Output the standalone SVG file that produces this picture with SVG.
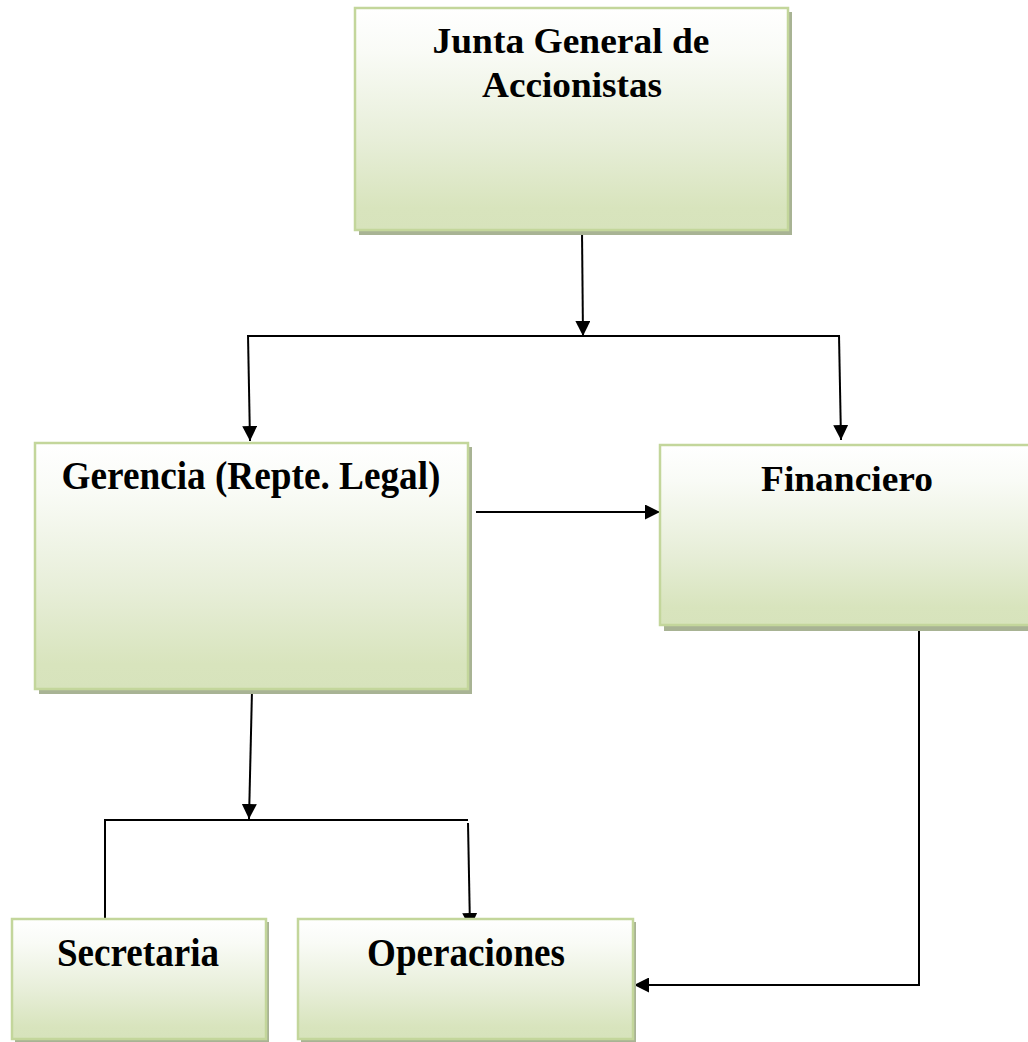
<svg xmlns="http://www.w3.org/2000/svg" width="1028" height="1042" viewBox="0 0 1028 1042">
<style>
.box{fill:url(#g);stroke:#c3d69b;stroke-width:2.5}
.sh{fill:#a8b394}
.t{font-family:"Liberation Serif","Times New Roman",serif;font-weight:bold;fill:#000;text-anchor:middle}
.c{stroke:#000;stroke-width:2;fill:none}
</style>
<defs>
<linearGradient id="g" x1="0" y1="0" x2="0" y2="1">
<stop offset="0" stop-color="#ffffff"/>
<stop offset="0.2" stop-color="#f9fbf6"/>
<stop offset="0.6" stop-color="#e7eed8"/>
<stop offset="0.9" stop-color="#d8e4bd"/>
<stop offset="1" stop-color="#d7e3bc"/>
</linearGradient>
<marker id="a" viewBox="0 0 10 10" refX="10" refY="5" markerWidth="7.5" markerHeight="7.5" markerUnits="strokeWidth" orient="auto">
<path d="M0,0 L10,5 L0,10 z" fill="#000"/>
</marker>
</defs>
<rect width="1028" height="1042" fill="#fff"/>
<g id="connectors">
<line class="c" x1="582" y1="231" x2="583" y2="336" marker-end="url(#a)"/>
<line class="c" x1="248" y1="336" x2="839" y2="336"/>
<line class="c" x1="248" y1="335" x2="250" y2="441" marker-end="url(#a)"/>
<line class="c" x1="839" y1="335" x2="841" y2="440" marker-end="url(#a)"/>
<line class="c" x1="476" y1="512" x2="660" y2="512" marker-end="url(#a)"/>
<line class="c" x1="252" y1="690" x2="249" y2="819" marker-end="url(#a)"/>
<line class="c" x1="105" y1="820" x2="468" y2="820"/>
<line class="c" x1="105" y1="819" x2="105" y2="918"/>
<line class="c" x1="468" y1="823" x2="470" y2="928" marker-end="url(#a)"/>
<polyline class="c" points="919,628 919,985 634,985" marker-end="url(#a)"/>
</g>
<g id="junta">
<rect class="sh" x="359" y="12" width="433" height="223"/>
<rect class="box" x="355" y="8" width="433" height="222"/>
<text class="t" x="571" y="53" font-size="35" textLength="277" lengthAdjust="spacingAndGlyphs">Junta General de</text>
<text class="t" x="572" y="97" font-size="35" textLength="180" lengthAdjust="spacingAndGlyphs">Accionistas</text>
</g>
<g id="gerencia">
<rect class="sh" x="39" y="447" width="433" height="247"/>
<rect class="box" x="35" y="443" width="433" height="246"/>
<text class="t" x="251" y="489" font-size="40" textLength="379" lengthAdjust="spacingAndGlyphs">Gerencia (Repte. Legal)</text>
</g>
<g id="financiero">
<rect class="sh" x="664" y="449" width="380" height="182"/>
<rect class="box" x="660" y="445" width="380" height="180"/>
<text class="t" x="847" y="491" font-size="36" textLength="172" lengthAdjust="spacingAndGlyphs">Financiero</text>
</g>
<g id="secretaria">
<rect class="sh" x="15" y="922" width="254" height="120"/>
<rect class="box" x="12" y="919" width="254" height="120"/>
<text class="t" x="138" y="966" font-size="40" textLength="162" lengthAdjust="spacingAndGlyphs">Secretaria</text>
</g>
<g id="operaciones">
<rect class="sh" x="301" y="922" width="335" height="120"/>
<rect class="box" x="298" y="919" width="335" height="120"/>
<text class="t" x="466" y="966" font-size="40" textLength="198" lengthAdjust="spacingAndGlyphs">Operaciones</text>
</g>
</svg>
